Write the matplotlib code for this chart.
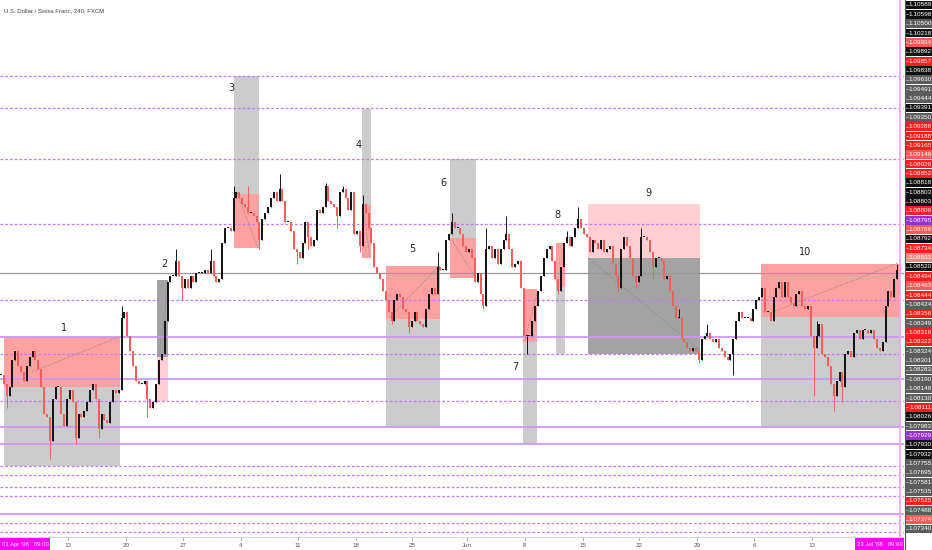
import matplotlib
matplotlib.use("Agg")
import matplotlib.pyplot as plt
from matplotlib.patches import Rectangle

# ---------------- data ----------------
BASE = 1.07      # price base
PIP = 0.0001     # one pip

# bar closes in pips above 1.0700 (sampled 4h-ish bars, 01 Apr - 23 Jul)
closes_pips = [
    118,115,111,114,123,126,121,119,116,121,
    124,126,123,120,114,105,104,96,110,114,
    114,105,101,110,113,109,97,105,104,106,
    109,113,115,110,100,105,103,102,109,113,
    112,113,137,139,131,126,121,116,115,115,
    116,110,107,109,115,123,125,136,149,151,
    151,156,151,147,150,147,151,149,152,152,
    152,153,152,156,151,149,150,162,167,167,
    166,177,179,
    177,175,174,172,172,171,169,163,170,172,
    174,177,179,176,180,176,169,169,166,160,
    159,157,162,169,164,161,163,173,172,174,
    181,176,175,174,171,179,180,177,173,179,
    165,166,161,175,172,167,162,154,152,150,
    146,143,139,136,143,145,144,140,139,134,
    136,139,136,135,134,140,145,147,145,154,
    153,153,163,165,169,167,167,
    165,161,159,160,157,149,152,145,141,160,
    161,157,160,155,160,163,165,160,154,155,
    156,147,131,131,131,136,141,146,151,157,
    160,161,156,150,146,154,162,164,161,164,
    167,170,167,165,164,159,163,162,160,163,
    159,160,161,155,151,147,160,164,161,157,
    151,149,151,164,164,163,159,154,157,157,
    156,150,151,146,141,137,137,130,129,
    127,126,127,126,123,130,131,132,130,129,
    130,127,126,124,123,125,130,136,139,137,
    137,137,136,140,143,144,147,139,139,136,
    144,147,149,144,149,144,142,141,145,146,
    141,140,141,131,127,131,135,125,124,121,
    115,111,116,119,114,125,126,124,132,133,
    130,133,133,132,133,130,127,126,129,141,
    146,144,150,153,
]
# visible wick extremes (bar index -> pips)
wick_high = {42: 141, 61: 160, 73: 160, 81: 181, 86: 181, 97: 185, 113: 182,
             119: 181, 126: 178, 152: 159, 157: 172, 169: 167, 176: 171,
             197: 166, 201: 174, 223: 167, 236: 140, 246: 135, 284: 136, 312: 155}
wick_low = {2: 107, 17: 90, 26: 95, 34: 97, 51: 104, 63: 143, 90: 160, 103: 155,
            107: 160, 117: 167, 125: 159, 136: 135, 142: 132, 168: 140, 183: 125,
            194: 145, 215: 146, 221: 147, 227: 150, 243: 122, 255: 118, 283: 111,
            290: 106, 293: 109}

# horizontal levels (pips)
dashed_levels = [217.7, 207, 190, 168.3, 143, 125, 109.3, 87.7, 84.7, 80.7, 77.7, 68.7, 65.7]
solid_levels = [130.7, 116.7, 100.7, 95, 71.7]
gray_level = 152

# numbered boxes: start bar, end bar, top, middle, bottom (pips)
box_names = ["1", "2", "3", "4", "5", "6", "7", "8", "9", "10"]
box_start = [1.0, 54.3, 81.1, 125.7, 134.1, 156.3, 181.8, 193.2, 204.4, 264.6]
box_end = [41.4, 58.1, 89.8, 128.8, 152.9, 165.4, 186.6, 196.4, 243.4, 313.0]
box_top = [130.7, 149.7, 217.7, 206.7, 154.3, 190.0, 146.7, 162.0, 175.0, 155.0]
box_mid = [114.0, 124.0, 178.3, 174.7, 136.7, 163.7, 129.0, 147.3, 157.0, 137.3]
box_bottom = [87.7, 109.3, 160.3, 157.0, 100.7, 150.3, 95.0, 125.0, 125.0, 100.7]
# label anchor (bar, pips)
label_bar = [21.9, 56.8, 80.1, 124.7, 143.1, 154.2, 179.0, 193.9, 225.3, 280.0]
label_pips = [133.7, 155.0, 213.7, 194.7, 160.0, 182.0, 120.7, 171.3, 178.7, 159.0]
# dotted diagonal guide lines (bar0, pips0, bar1, pips1)
diag_lines = [(10.8, 119, 41.1, 130.7), (55.0, 124.3, 57.8, 146.3),
              (82.2, 178.7, 89.5, 160.3), (126.0, 174, 128.5, 157.3),
              (135.4, 137.3, 152.2, 154), (157, 163, 165, 150.7),
              (182.5, 129.7, 186.6, 145.3), (204.4, 157, 243.4, 126.3),
              (267.8, 138.7, 312.3, 155.3)]

# date axis
tick_bars = [23.3, 43.5, 63.4, 83.6, 103.4, 123.6, 143.1, 162.3, 182.4, 202.6, 222.1, 242.3, 262.2, 282.4]
tick_labels = ["13", "20", "27", "4", "11", "18", "25", "Jun", "8", "15", "22", "29", "6", "13"]
start_label = "01 Apr '08   09:00"
end_label = "23 Jul '08   09:00"
end_bar = 313.0

# price-axis label stack
axis_labels = ["1.10589", "1.10598", "1.10500", "1.10218", "1.09934", "1.09892", "1.09857",
               "1.09838", "1.09630", "1.09491", "1.09444", "1.09391", "1.09350", "1.09288",
               "1.09188", "1.09165", "1.09146", "1.08929", "1.08852", "1.08818", "1.08803",
               "1.08803", "1.08809", "1.08795", "1.08788", "1.08792", "1.08734", "1.08531",
               "1.08520", "1.08494", "1.08463", "1.08444", "1.08424", "1.08356", "1.08349",
               "1.08319", "1.08322", "1.08324", "1.08301", "1.08283", "1.08190", "1.08148",
               "1.08130", "1.08111", "1.08026", "1.07983", "1.07929", "1.07930", "1.07932",
               "1.07755", "1.07695", "1.07581", "1.07535", "1.07525", "1.07488", "1.07374",
               "1.07340"]
axis_kind = ["k", "k", "g", "k", "l", "k", "r", "k", "g", "g", "g", "k", "g", "r",
             "r", "r", "l", "r", "r", "k", "k", "k", "r", "p", "l", "k", "r", "q",
             "k", "r", "l", "r", "g", "r", "g", "r", "r", "g", "g", "g", "g", "g",
             "g", "r", "k", "g", "p", "k", "k", "g", "g", "g", "g", "r", "g", "l", "g"]

# ---------------- styles ----------------
W, H = 932, 550
CHART_W, AXIS_H = 904, 13
RED_BOX = "#ffa1a1"
PINK_BOX = "#ffcfd3"
GRAY_BOX = "#cccccc"
DARK_BOX = "#a3a3a3"
PURPLE_D = "#c27cf0"
PURPLE_S = "#cf98f3"
UP = "#161616"
DOWN = "#f25f5c"
KIND_COL = {"k": "#111111", "g": "#5c5c5c", "r": "#ff1c1c", "l": "#ff5a5a",
            "q": "#ff8585", "p": "#9a2fd0"}
box_style = {"2": (DARK_BOX, PINK_BOX), "9": (PINK_BOX, DARK_BOX),
             "3": (GRAY_BOX, RED_BOX), "4": (GRAY_BOX, RED_BOX), "6": (GRAY_BOX, RED_BOX)}

def px(p):
    return BASE + p * PIP

fig = plt.figure(figsize=(W / 100, H / 100), dpi=100)
fig.patch.set_facecolor("white")
ax = fig.add_axes([0, AXIS_H / H, CHART_W / W, 1 - AXIS_H / H])
ax.set_facecolor("white")
n = len(closes_pips)
xmin = -0.35
xmax = xmin + CHART_W / (896 / (n - 1))
ax.set_xlim(xmin, xmax)
ax.set_ylim(px(64), px(243))
for s in ax.spines.values():
    s.set_visible(False)
ax.set_xticks([]); ax.set_yticks([])

# boxes
for i, name in enumerate(box_names):
    upper, lower = box_style.get(name, (RED_BOX, GRAY_BOX))
    x0, x1 = box_start[i], box_end[i]
    ax.add_patch(Rectangle((x0, px(box_mid[i])), x1 - x0, px(box_top[i]) - px(box_mid[i]),
                           facecolor=upper, edgecolor="none", zorder=1))
    ax.add_patch(Rectangle((x0, px(box_bottom[i])), x1 - x0, px(box_mid[i]) - px(box_bottom[i]),
                           facecolor=lower, edgecolor="none", zorder=1))
    ax.text(label_bar[i], px(label_pips[i]), name, fontsize=7, color="#222222",
            ha="center", va="center", zorder=6, family="DejaVu Sans")

# horizontal levels
for lv in dashed_levels:
    ax.axhline(px(lv), color=PURPLE_D, lw=0.9, dashes=(2.2, 1.6), zorder=2)
for lv in solid_levels:
    ax.axhline(px(lv), color=PURPLE_S, lw=1.3, zorder=2)
ax.axhline(px(gray_level), color="#9a9a9a", lw=0.9, zorder=2)

for (b0, p0, b1, p1) in diag_lines:
    ax.plot([b0, b1], [px(p0), px(p1)], color="#8a8a8a", lw=0.6, dashes=(1.5, 1.5), zorder=3)

# candles
closes = [px(c) for c in closes_pips]
opens = [closes[0]] + closes[:-1]
for i in range(n):
    o, c = opens[i], closes[i]
    hi = max(o, c); lo = min(o, c)
    if i in wick_high:
        hi = max(hi, px(wick_high[i]))
    if i in wick_low:
        lo = min(lo, px(wick_low[i]))
    col = UP if c >= o else DOWN
    ax.vlines(i, lo, hi, color=col, lw=0.7, zorder=4)
    h = max(abs(c - o), 0.00002)
    ax.bar(i, h, bottom=min(o, c), width=0.7, color=col, linewidth=0, zorder=4)

# end-date vertical line
ax.axvline(end_bar, color="#f2a6f2", lw=1.3, zorder=5)

ax.text(0.004, 0.985, "U.S. Dollar / Swiss Franc, 240, FXCM", transform=ax.transAxes,
        fontsize=4.3, color="#444444", ha="left", va="top", family="Liberation Sans")

# date axis
axb = fig.add_axes([0, 0, CHART_W / W, AXIS_H / H])
axb.set_xlim(xmin, xmax); axb.set_ylim(0, 1)
axb.axis("off")
axb.axhline(1, color="#d0d0d0", lw=1.2)
for b, t in zip(tick_bars, tick_labels):
    axb.plot([b, b], [0.78, 0.95], color="#999999", lw=0.6)
    axb.text(b, 0.38, t, fontsize=4.5, color="#555555", ha="center", va="center",
             family="Liberation Sans")
axb.add_patch(Rectangle((xmin, 0), 17.4, 0.92, facecolor="#ff00ff", edgecolor="none"))
axb.text(xmin + 8.7, 0.42, start_label, fontsize=4.3, color="white", ha="center", va="center",
         family="Liberation Sans")
axb.add_patch(Rectangle((297.4, 0), xmax - 297.4, 0.92, facecolor="#ff00ff", edgecolor="none"))
axb.text((297.4 + xmax) / 2, 0.42, end_label, fontsize=4.3, color="white", ha="center",
         va="center", family="Liberation Sans")

# price axis
axr = fig.add_axes([CHART_W / W, 0, 1 - CHART_W / W, 1])
axr.set_xlim(0, 1); axr.set_ylim(H, 0)
axr.axis("off")
axr.plot([0.02, 0.02], [0, H], color="#555555", lw=0.8)
step = (529 - 5) / (len(axis_labels) - 1)
for i, (t, k) in enumerate(zip(axis_labels, axis_kind)):
    yc = 5 + i * step
    axr.add_patch(Rectangle((0.06, yc - 4.4), 0.94, 8.8, facecolor=KIND_COL[k], edgecolor="none"))
    axr.plot([0.06, 0.16], [yc, yc], color="#dddddd", lw=0.4)
    axr.text(0.58, yc, t, fontsize=4.6, color="white", ha="center", va="center",
             family="Liberation Sans")

fig.savefig("out.png", dpi=100, facecolor="white")
